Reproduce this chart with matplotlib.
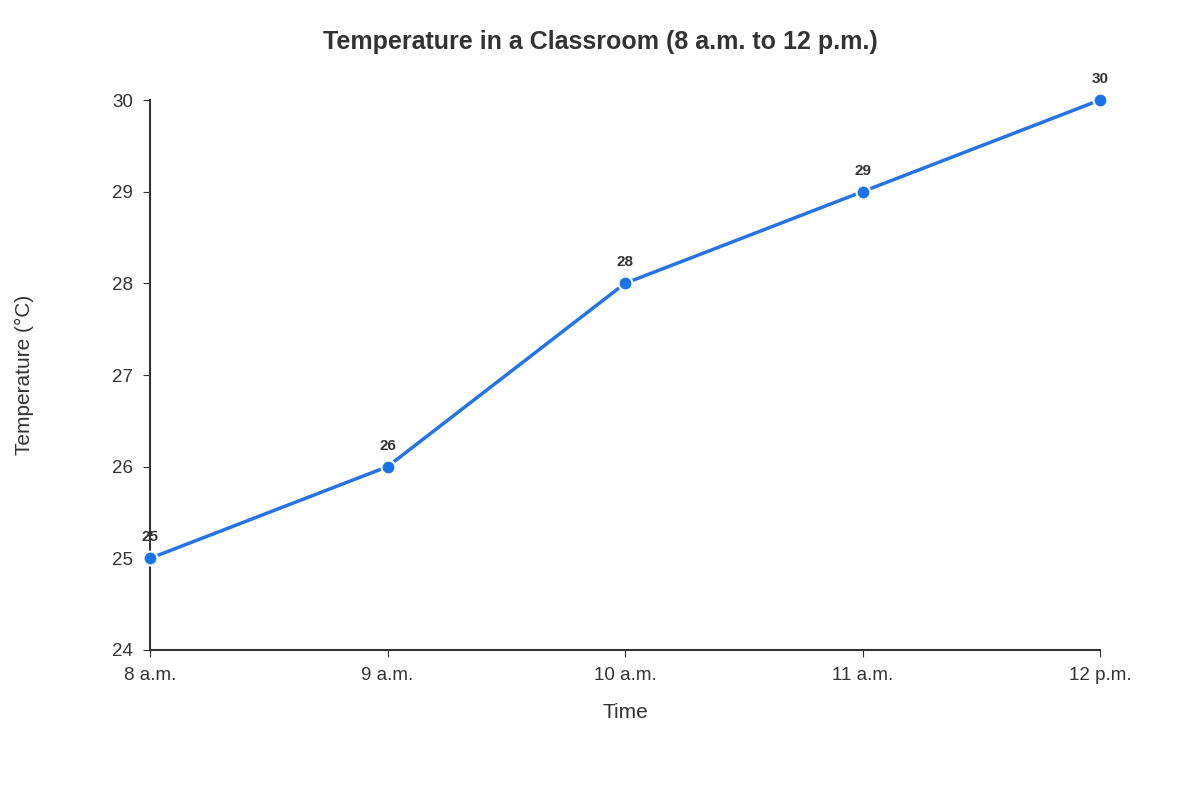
import matplotlib
matplotlib.use("Agg")
import matplotlib.pyplot as plt

times = ["8 a.m.", "9 a.m.", "10 a.m.", "11 a.m.", "12 p.m."]
temps = [25, 26, 28, 29, 30]

plt.rcParams['font.family'] = ['Liberation Sans', 'DejaVu Sans']
fig = plt.figure(figsize=(12, 8), dpi=100)
ax = fig.add_axes([0.125, 0.1875, 0.7917, 0.6875])
x = list(range(len(times)))
ax.plot(x, temps, color="#2474e5", lw=2.5, marker="o", markersize=10,
        markerfacecolor="#1a73e8", markeredgecolor="white", markeredgewidth=1.5,
        clip_on=False, zorder=3)
for xi, v in zip(x, temps):
    ax.annotate(str(v), (xi, v), xytext=(0, 10), textcoords="offset points",
                ha="center", va="bottom", fontsize=11, fontweight="bold", color="#333333")
ax.set_xlim(0, 4)
ax.set_ylim(24, 30)
ax.set_xticks(x)
ax.set_xticklabels(times)
ax.set_yticks(range(24, 31))
ax.tick_params(labelsize=13.5, colors="#333333", length=5, pad=7)
for s in ["top", "right"]:
    ax.spines[s].set_visible(False)
for s in ["left", "bottom"]:
    ax.spines[s].set_color("#333333")
    ax.spines[s].set_linewidth(1.5)
ax.set_xlabel("Time", fontsize=15, color="#333333", labelpad=14)
ax.set_ylabel("Temperature (°C)", fontsize=15, color="#333333")
ax.yaxis.set_label_coords(-0.122, 0.5)
fig.text(0.5, 0.947, "Temperature in a Classroom (8 a.m. to 12 p.m.)", ha="center",
         va="center", fontsize=18, fontweight="bold", color="#333333")
fig.savefig("out.png", dpi=100)
